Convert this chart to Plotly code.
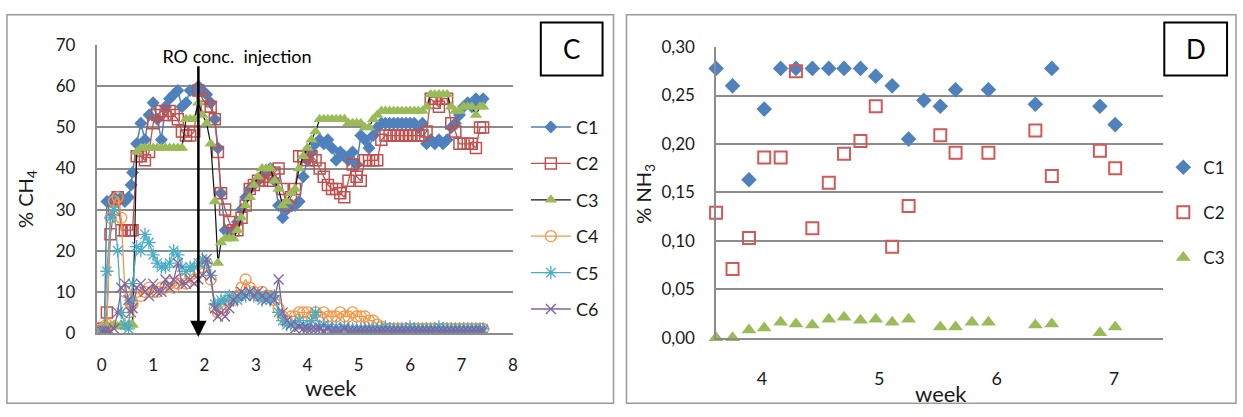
import plotly.graph_objects as go

W, H = 1243, 417
FONT = "Lato"

# ---------------- Panel C data (% CH4) ----------------
weeks_c = [0.00, 0.05, 0.10, 0.17, 0.24, 0.31, 0.38, 0.45, 0.52, 0.57,
           0.60, 0.68, 0.76, 0.84, 0.92, 1.00, 1.08, 1.16, 1.24, 1.32,
           1.40, 1.48, 1.56, 1.64, 1.72, 1.80, 1.88, 1.96, 2.04, 2.12,
           2.20, 2.26, 2.32, 2.40, 2.48, 2.56, 2.64, 2.72, 2.80, 2.88,
           2.96, 3.04, 3.12, 3.20, 3.28, 3.36, 3.44, 3.52, 3.60, 3.68,
           3.76, 3.84, 3.92, 4.00, 4.08, 4.16, 4.24, 4.32, 4.40, 4.48,
           4.56, 4.64, 4.72, 4.80, 4.88, 4.96, 5.04, 5.12, 5.20, 5.28,
           5.36, 5.44, 5.52, 5.60, 5.68, 5.76, 5.84, 5.92, 6.00, 6.08,
           6.16, 6.24, 6.32, 6.40, 6.48, 6.56, 6.64, 6.72, 6.80, 6.88,
           6.96, 7.04, 7.12, 7.20, 7.28, 7.36, 7.42]

ch4_c1 = [1, 1, 32, 32, 33, 32, 33, 32, 33, 36,
          39, 46, 51, 47, 53, 56, 52, 47, 55, 57,
          58, 59, 55, 56, 59, 59, 60, 59, 58, 56,
          52, 45, 34, 25, 24, 25, 27, 30, 33, 35,
          36, 37, 38, 39, 40, 37, 31, 28, 30, 31,
          31, 32, 38, 42, 44, 46, 47, 46, 47, 45,
          42, 44, 43, 42, 44, 41, 48, 47, 45, 48,
          50, 51, 51, 51, 51, 51, 51, 51, 51, 51,
          50, 51, 46, 47, 46, 47, 46, 47, 50, 51,
          53, 55, 56, 55, 57, 56, 57]

ch4_c2 = [1, 1, 5, 24, 30, 33, 25, 25, 25, 25,
          25, 43, 43, 42, 44, 51, 53, 54, 53, 54,
          53, 52, 49, 48, 48, 49, 59, 57, 55, 55,
          52, 44, 34, 30, 27, 25, 25, 28, 31, 35,
          36, 37, 37, 38, 37, 39, 40, 35, 31, 33,
          35, 43, 43, 42, 43, 42, 40, 38, 36, 35,
          35, 34, 33, 37, 41, 38, 37, 42, 42, 42,
          42, 47, 48, 48, 48, 48, 48, 48, 48, 48,
          48, 48, 49, 57, 56, 55, 57, 57, 51, 49,
          46, 46, 46, 46, 45, 50, 50]

ch4_c3 = [1.5, 1.5, 2, 1.5, 2, 1.5, 2, 1.5, 2, 2,
          2, 44, 45, 45, 45, 45, 45, 45, 45, 45,
          45, 45, 45, 52, 52, 52, 56, 53, 51, 46,
          32, 17, 22, 23, 23, 23, 25, 28, 31, 33,
          36, 38, 40, 40, 40, 37, 35, 31, 32, 34,
          35, 40, 43, 45, 47, 49, 52, 52, 52, 52,
          52, 52, 52, 51, 51, 51, 51, 50, 50, 52,
          53, 54, 54, 54, 54, 54, 54, 54, 54, 54,
          54, 54, 55, 58, 58, 58, 58, 58, 55, 54,
          54, 55, 55, 55, 53, 55, 55]

ch4_c4 = [1, 1, 2, 28, 32, 33, 28, 10, 5, 7,
          7, 10, 9, 10, 11, 10, 10, 11, 11, 12,
          11, 12, 13, 12, 14, 13, 15, 16, 17, 13,
          6, 5, 6, 7, 8, 8, 9, 11, 13, 11,
          10, 9, 10, 9, 9, 8, 6, 4, 3, 4,
          4, 5, 5, 5, 4, 5, 4, 5, 4, 4,
          4, 5, 4, 4, 5, 4, 4, 4, 3, 3,
          2, 1.5, 1, 1, 1, 1, 1, 1, 1, 1,
          1, 1, 1, 1, 1, 1, 1, 1, 1, 1,
          1, 1, 1, 1, 1, 1, 1]

ch4_c5 = [0.5, 0.5, 15, 28, 30, 20, 5, 2, 1, 8,
          12, 21, 20, 24, 22, 19, 17, 16, 16, 17,
          20, 19, 16, 15, 16, 16, 17, 18, 17, 14,
          7, 7, 8, 8, 9, 8, 8, 9, 9, 10,
          9, 9, 8, 9, 8, 9, 5, 3, 2, 2,
          2, 3, 2, 1.5, 3, 5, 1.5, 2, 1.5, 1,
          1.5, 1, 1.5, 1, 1, 1, 1, 1, 1, 1,
          1, 1, 1.5, 1, 1, 1, 1, 1, 1.5, 1,
          1, 1, 1, 1, 1, 1.5, 1, 1, 1, 1,
          1, 1, 1, 1, 1, 1, 1]

ch4_c6 = [0.5, 0.5, 0.5, 0.5, 1, 5, 11, 12, 8, 5,
          6, 11, 12, 10, 9, 12, 10, 10, 13, 11,
          13, 17, 12, 12, 13, 12, 13, 14, 18, 14,
          6, 4, 5, 4, 6, 8, 9, 10, 9, 10,
          9, 10, 9, 8, 9, 8, 13, 5, 3, 2,
          1, 1.5, 1, 1, 1, 1, 1, 0.5, 1, 0.5,
          0.5, 0.5, 1, 0.5, 0.5, 0.5, 0.5, 0.5, 0.5, 0.5,
          0.5, 0.5, 0.5, 0.5, 0.5, 0.5, 0.5, 0.5, 0.5, 0.5,
          0.5, 0.5, 0.5, 0.5, 0.5, 0.5, 0.5, 0.5, 0.5, 0.5,
          0.5, 0.5, 0.5, 0.5, 0.5, 0.5, 0.5]

series_c_names = ["C1", "C2", "C3", "C4", "C5", "C6"]
injection_week = 1.88
injection_top = 65
injection_tip = -1.0
c_yticks = [0, 10, 20, 30, 40, 50, 60, 70]
c_xticks = [0, 1, 2, 3, 4, 5, 6, 7, 8]

# ---------------- Panel D data (% NH3) ----------------
weeks_d_c1 = [3.61, 3.75, 3.89, 4.02, 4.16, 4.29, 4.43, 4.57, 4.70, 4.84, 4.97,
              5.11, 5.25, 5.38, 5.52, 5.65, 5.93, 6.33, 6.47, 6.88, 7.01]
nh3_c1 = [0.278, 0.260, 0.163, 0.236, 0.278, 0.278, 0.278, 0.278, 0.278, 0.278, 0.270,
          0.260, 0.205, 0.245, 0.239, 0.256, 0.256, 0.241, 0.278, 0.239, 0.220]

weeks_d_c2 = [3.61, 3.75, 3.89, 4.02, 4.16, 4.29, 4.43, 4.57, 4.70, 4.84,
              4.97, 5.11, 5.25, 5.52, 5.65, 5.93, 6.33, 6.47, 6.88, 7.01]
nh3_c2 = [0.129, 0.071, 0.103, 0.186, 0.186, 0.275, 0.113, 0.160, 0.190, 0.203,
          0.239, 0.094, 0.136, 0.209, 0.191, 0.191, 0.214, 0.167, 0.193, 0.175]

weeks_d_c3 = [3.61, 3.75, 3.89, 4.02, 4.16, 4.29, 4.43, 4.57, 4.70, 4.84, 4.97,
              5.11, 5.25, 5.52, 5.65, 5.79, 5.93, 6.33, 6.47, 6.88, 7.01]
nh3_c3 = [0.000, 0.000, 0.008, 0.010, 0.016, 0.014, 0.013, 0.019, 0.021, 0.018, 0.019,
          0.016, 0.019, 0.011, 0.011, 0.016, 0.016, 0.013, 0.014, 0.005, 0.011]

d_yticks = [0.00, 0.05, 0.10, 0.15, 0.20, 0.25, 0.30]
d_yticklabels = ["0,00", "0,05", "0,10", "0,15", "0,20", "0,25", "0,30"]
d_xticks = [4, 5, 6, 7]


def px(x):
    return x / W


def py(y):
    return 1 - y / H


BLUE, RED, GREEN, ORANGE, TEAL, PURPLE = "#4F81BD", "#C0504D", "#9BBB59", "#F79646", "#4BACC6", "#8064A2"
GRID = "#8C8C8C"
TXT = "#1A1A1A"

fig = go.Figure()

c_styles = [
    dict(line=dict(color=BLUE, width=1.5), marker=dict(symbol="diamond", size=10, color=BLUE)),
    dict(line=dict(color=RED, width=1.3), marker=dict(symbol="square-open", size=11, color=RED, line=dict(width=1.5, color=RED))),
    dict(line=dict(color="#111111", width=1.2), marker=dict(symbol="triangle-up", size=11, color=GREEN)),
    dict(line=dict(color=ORANGE, width=1.3), marker=dict(symbol="circle-open", size=11, color=ORANGE, line=dict(width=1.3, color=ORANGE))),
    dict(line=dict(color=TEAL, width=1.3), marker=dict(symbol="asterisk-open", size=11, color=TEAL, line=dict(width=1.3, color=TEAL))),
    dict(line=dict(color=PURPLE, width=1.3), marker=dict(symbol="x-thin-open", size=10, color=PURPLE, line=dict(width=1.3, color=PURPLE))),
]
c_values = [ch4_c1, ch4_c2, ch4_c3, ch4_c4, ch4_c5, ch4_c6]
for name, vals, st in zip(series_c_names, c_values, c_styles):
    fig.add_trace(go.Scatter(x=weeks_c, y=vals, name=name, mode="lines+markers",
                             xaxis="x", yaxis="y", legend="legend", legendgroup="c" + name,
                             line=st["line"], marker=st["marker"]))

d_sets = [
    ("C1", weeks_d_c1, nh3_c1, dict(symbol="diamond", size=12, color=BLUE)),
    ("C2", weeks_d_c2, nh3_c2, dict(symbol="square-open", size=12, color="#D05A57", line=dict(width=2, color="#D05A57"))),
    ("C3", weeks_d_c3, nh3_c3, dict(symbol="triangle-up", size=13, color=GREEN)),
]
for name, xs, ys, mk in d_sets:
    fig.add_trace(go.Scatter(x=xs, y=ys, name=name, mode="markers", xaxis="x2", yaxis="y2",
                             legend="legend2", legendgroup="d" + name, marker=mk, cliponaxis=False))

tickfont = dict(family=FONT, size=17, color=TXT)

fig.update_layout(
    width=W, height=H, margin=dict(l=0, r=0, t=0, b=0),
    paper_bgcolor="white", plot_bgcolor="white",
    font=dict(family=FONT, color=TXT),
    xaxis=dict(domain=[px(97), px(515)], range=[-0.1, 8.0], tickvals=c_xticks, anchor="y",
               showgrid=False, zeroline=False, showline=True, linecolor=GRID, linewidth=1.5,
               ticks="outside", ticklen=16, tickcolor="rgba(0,0,0,0)", tickfont=dict(family=FONT, size=17, color=TXT)),
    yaxis=dict(domain=[py(339), py(36)], range=[0, 70], tickvals=c_yticks, anchor="x",
               showgrid=True, gridcolor=GRID, gridwidth=1.5, zeroline=False,
               showline=True, linecolor=GRID, linewidth=1.5,
               ticks="outside", ticklen=16, tickcolor="rgba(0,0,0,0)", tickfont=tickfont),
    xaxis2=dict(domain=[px(719), px(1168)], range=[3.61, 7.42], tickvals=d_xticks, anchor="y2",
                showgrid=False, zeroline=False, showline=True, linecolor=GRID, linewidth=1.5,
                ticks="outside", ticklen=24, tickcolor="rgba(0,0,0,0)", tickfont=dict(family=FONT, size=18, color=TXT)),
    yaxis2=dict(domain=[py(344), py(38)], range=[0, 0.30], tickvals=d_yticks, ticktext=d_yticklabels,
                anchor="x2",
                showgrid=True, gridcolor=GRID, gridwidth=1.5, zeroline=False,
                showline=True, linecolor=GRID, linewidth=1.5,
                ticks="outside", ticklen=16, tickcolor="rgba(0,0,0,0)", tickfont=tickfont),
    legend=dict(x=px(528), y=py(103), xanchor="left", yanchor="top", bgcolor="rgba(0,0,0,0)",
                font=dict(family=FONT, size=18, color=TXT), tracegroupgap=10, itemwidth=40),
    legend2=dict(x=px(1168), y=py(146), xanchor="left", yanchor="top", bgcolor="rgba(0,0,0,0)",
                 font=dict(family=FONT, size=17, color=TXT), tracegroupgap=20, itemwidth=30),
    showlegend=True,
)

# panel frames and letter boxes
shapes = [
    dict(type="rect", xref="paper", yref="paper", x0=px(7), x1=px(616), y0=py(413), y1=py(4),
         line=dict(color="#9A9A9A", width=1.5)),
    dict(type="rect", xref="paper", yref="paper", x0=px(629), x1=px(1241), y0=py(413), y1=py(4),
         line=dict(color="#9A9A9A", width=1.5)),
    dict(type="rect", xref="paper", yref="paper", x0=px(543), x1=px(605), y0=py(68), y1=py(12),
         line=dict(color="black", width=2)),
    dict(type="rect", xref="paper", yref="paper", x0=px(1169), x1=px(1232), y0=py(68), y1=py(12),
         line=dict(color="black", width=2)),
]
fig.update_layout(shapes=shapes)


def label(text, x, y, size, color=TXT, angle=0, **kw):
    return dict(text=text, xref="paper", yref="paper", x=px(x), y=py(y), xanchor="center",
                yanchor="middle", showarrow=False, textangle=angle,
                font=dict(family=FONT, size=size, color=color), **kw)


annotations = [
    label("C", 574, 40, 26, "black"),
    label("D", 1200.5, 40, 26, "black"),
    label("RO conc.  injection", 238, 47, 18, "black", width=204, height=30, bgcolor="white"),
    dict(text="", xref="x", yref="y", x=injection_week, y=injection_tip, axref="x", ayref="y",
         ax=injection_week, ay=injection_top, showarrow=True, arrowhead=2, arrowsize=1.3,
         arrowwidth=2.5, arrowcolor="black", standoff=0, startstandoff=0, borderpad=0,
         font=dict(size=1)),
    label("% CH<sub>4</sub>", 26, 198, 20, angle=-90),
    label("% NH<sub>3</sub>", 647, 192, 20, angle=-90),
    label("week", 332, 396, 22),
    label("week", 945, 403, 22),
]
fig.update_layout(annotations=annotations)

fig.write_html("out.html")
